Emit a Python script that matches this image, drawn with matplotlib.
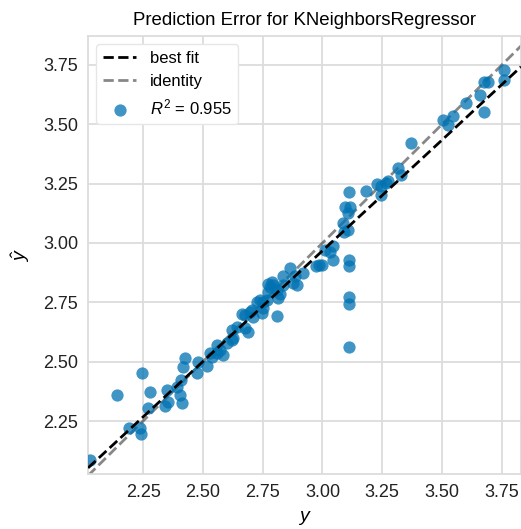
import numpy as np
import matplotlib
matplotlib.use("Agg")
import matplotlib.pyplot as plt

# Giá trị thực tế (y) và giá trị dự đoán (y_hat)
y_true = [2.028, 2.141, 2.246, 2.279, 2.271, 2.191, 2.237, 2.242, 2.351, 2.342,
          2.355, 2.405, 2.413, 2.392, 2.409, 2.418, 2.426, 2.476, 2.480, 2.518,
          2.539, 2.531, 2.560, 2.573, 2.585, 2.560, 2.602, 2.623, 2.627, 2.623,
          2.644, 2.677, 2.690, 2.665, 2.677, 2.698, 2.711, 2.707, 2.728, 2.740,
          2.753, 2.749, 2.769, 2.774, 2.782, 2.774, 2.795, 2.790, 2.811, 2.824,
          2.816, 2.811, 2.837, 2.837, 2.866, 2.878, 2.895, 2.887, 2.920, 2.971,
          2.987, 3.000, 3.012, 3.033, 3.042, 3.046, 3.109, 3.109, 3.113, 3.113,
          3.113, 3.084, 3.088, 3.105, 3.096, 3.117, 3.105, 3.109, 3.180, 3.230,
          3.243, 3.264, 3.276, 3.243, 3.314, 3.327, 3.369, 3.503, 3.524, 3.544,
          3.599, 3.658, 3.674, 3.674, 3.691, 3.758, 3.758, 2.753]
y_pred = [2.085, 2.359, 2.452, 2.372, 2.305, 2.220, 2.220, 2.195, 2.380, 2.313,
          2.330, 2.359, 2.326, 2.393, 2.423, 2.477, 2.515, 2.452, 2.498, 2.482,
          2.519, 2.536, 2.536, 2.549, 2.528, 2.570, 2.578, 2.591, 2.600, 2.633,
          2.646, 2.642, 2.625, 2.701, 2.696, 2.709, 2.688, 2.718, 2.751, 2.760,
          2.726, 2.705, 2.760, 2.793, 2.814, 2.827, 2.823, 2.836, 2.802, 2.785,
          2.768, 2.692, 2.823, 2.861, 2.895, 2.831, 2.823, 2.861, 2.873, 2.903,
          2.907, 2.907, 2.970, 2.962, 2.987, 2.928, 2.928, 2.903, 2.772, 2.743,
          2.562, 3.084, 3.046, 3.055, 3.152, 3.152, 3.126, 3.215, 3.219, 3.249,
          3.240, 3.253, 3.261, 3.202, 3.316, 3.286, 3.421, 3.518, 3.497, 3.535,
          3.590, 3.624, 3.552, 3.678, 3.678, 3.729, 3.687, 2.751]
ticks = [2.25, 2.50, 2.75, 3.00, 3.25, 3.50, 3.75]
x_lim = (2.02, 3.83)
y_lim = (2.027, 3.872)

plt.rcParams['font.family'] = ['Liberation Sans', 'DejaVu Sans']
plt.rcParams['mathtext.fontset'] = 'custom'
plt.rcParams['mathtext.rm'] = 'Liberation Sans'
plt.rcParams['mathtext.it'] = 'Liberation Sans:italic'

fig = plt.figure(figsize=(5.21, 5.29), dpi=100)
ax = fig.add_axes([0.169, 0.104, 0.831, 0.828])
ax.set_facecolor('white')

# Điểm dữ liệu
ax.scatter(y_true, y_pred, s=78, color='#0072B2', alpha=0.75, linewidths=0,
           label='$R^2$ = 0.955', zorder=3)

# Đường best fit (hồi quy tuyến tính)
slope, intercept = np.polyfit(y_true, y_pred, 1)
xs = np.array(x_lim)
ax.plot(xs, slope * xs + intercept, 'k--', lw=2, label='best fit', zorder=4)

# Đường identity
lo = min(x_lim[0], y_lim[0])
hi = max(x_lim[1], y_lim[1])
ax.plot([lo, hi], [lo, hi], ls='--', color='#111111', alpha=0.5, lw=2,
        label='identity', zorder=2)

ax.set_xlim(x_lim)
ax.set_ylim(y_lim)
ax.set_xticks(ticks)
ax.set_yticks(ticks)
ax.set_xticklabels([f"{t:.2f}" for t in ticks])
ax.set_yticklabels([f"{t:.2f}" for t in ticks])
ax.tick_params(length=0, labelsize=13, pad=7, colors='#222222')

ax.grid(True, color='#dcdcdc', lw=1.3, zorder=0)
ax.set_axisbelow(True)
for s in ax.spines.values():
    s.set_color('#dcdcdc')
    s.set_linewidth(1.3)

ax.set_title('Prediction Error for KNeighborsRegressor', fontsize=13.4, pad=8)
ax.set_xlabel('$y$', fontsize=14, labelpad=6)
ax.set_ylabel(r'$\hat{y}$', fontsize=14, labelpad=8)

handles, labels = ax.get_legend_handles_labels()
order = [labels.index('best fit'), labels.index('identity'), labels.index('$R^2$ = 0.955')]
ax.legend([handles[i] for i in order], [labels[i] for i in order],
          loc='upper left', fontsize=12, scatterpoints=1, frameon=True,
          edgecolor='#e6e6e6', framealpha=1.0, fancybox=True)

fig.savefig('out.png', dpi=100)
